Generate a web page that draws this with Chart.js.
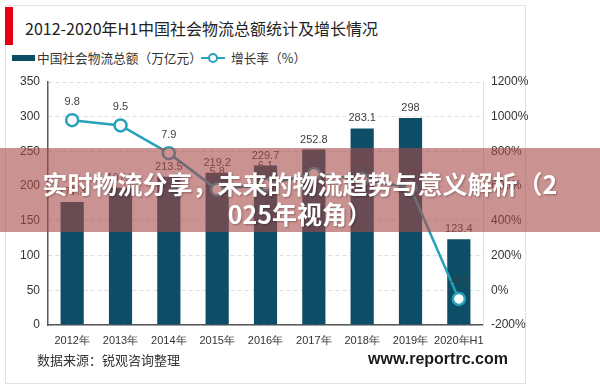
<!DOCTYPE html>
<html lang="zh">
<head>
<meta charset="UTF-8">
<script src="https://cdn.jsdelivr.net/npm/chart.js@4"></script>
<title>2012-2020年H1中国社会物流总额统计及增长情况</title>
<style>
  body { margin: 0; width: 600px; height: 387px; position: relative; overflow: hidden; background: #fff;
         font-family: "Noto Sans CJK SC", "Liberation Sans", sans-serif; color: #222; }
  .abs { position: absolute; }
  #card { left: 5px; top: 5px; width: 519px; height: 377px; border: 1px solid #e2e2e2; }
  #mark { left: 5px; top: 7px; width: 8px; height: 38px; background: #e60012; }
  #title { left: 25px; top: 16px; font-size: 16px; white-space: nowrap; }
  .leg { top: 48px; font-size: 12.7px; white-space: nowrap; color: #333; }
  #legBar { left: 12px; top: 55px; width: 23px; height: 6px; background: #0d4e66; }
  #legLine { left: 201px; top: 57px; width: 24px; height: 2px; background: #26a2bb; }
  #legDot { left: 208px; top: 53px; width: 6px; height: 6px; border: 2px solid #26a2bb; border-radius: 50%; background: #fff; }
  #wrap { left: 0; top: 0; width: 600px; height: 387px; }
  #src { left: 37px; top: 350px; font-size: 13px; color: #333; }
  #url { left: 368px; top: 350px; font-size: 16px; font-weight: bold; color: #1a1a1a; font-family: "Liberation Sans", Arial, sans-serif; }
  #band { left: 0; top: 148px; width: 600px; height: 84px; background: rgba(166, 73, 70, 0.6);
          color: #fff; font-weight: bold; font-size: 25px; line-height: 30px; text-align: center;
          box-sizing: border-box; padding-top: 20px; text-shadow: 1px 1px 2px rgba(0,0,0,0.3); }
</style>
</head>
<body>
<div id="card" class="abs"></div>
<div id="mark" class="abs"></div>
<div id="title" class="abs">2012-2020年H1中国社会物流总额统计及增长情况</div>
<div id="legBar" class="abs"></div>
<div class="abs leg" style="left:37px">中国社会物流总额（万亿元）</div>
<div id="legLine" class="abs"></div>
<div id="legDot" class="abs"></div>
<div class="abs leg" style="left:231px">增长率（%）</div>

<div id="wrap" class="abs"><canvas id="myChart"></canvas></div>

<div id="src" class="abs">数据来源：锐观咨询整理</div>
<div id="url" class="abs">www.reportrc.com</div>
<div id="band" class="abs">实时物流分享，未来的物流趋势与意义解析（2<br>025年视角）</div>

<script>
const years = ['2012年', '2013年', '2014年', '2015年', '2016年', '2017年', '2018年', '2019年', '2020年H1'];
const totals = [177.3, 197.8, 213.5, 219.2, 229.7, 252.8, 283.1, 298, 123.4];
const growth = [9.8, 9.5, 7.9, 5.8, 6.1, 6.7, 6.4, 5.9, -0.5];

const barColor = '#0d4e66';
const lineColor = '#26a2bb';

// value labels above bars and points
const valueLabels = {
    id: 'valueLabels',
    afterDatasetsDraw(chart) {
        const ctx = chart.ctx;
        ctx.save();
        ctx.font = '11px "Liberation Sans", Arial, sans-serif';
        ctx.fillStyle = '#404040';
        ctx.textAlign = 'center';
        ctx.textBaseline = 'middle';
        chart.getDatasetMeta(1).data.forEach((el, i) => {
            ctx.fillText(String(totals[i]), el.x, el.y - 10);
        });
        chart.getDatasetMeta(0).data.forEach((el, i) => {
            ctx.fillText(String(growth[i]), el.x, el.y - 18);
        });
        ctx.restore();
    }
};

let ctx = document.getElementById('myChart').getContext('2d');

new Chart(ctx, {
    data: {
        labels: years,
        datasets: [{
            type: 'line',
            label: '增长率（%）',
            data: growth,
            yAxisID: 'y1',
            borderColor: lineColor,
            borderWidth: 2.5,
            pointRadius: 6,
            pointBorderWidth: 2.5,
            pointBackgroundColor: '#fff',
            pointBorderColor: lineColor,
            tension: 0,
            order: 0
        }, {
            type: 'bar',
            label: '中国社会物流总额（万亿元）',
            data: totals,
            yAxisID: 'y',
            backgroundColor: barColor,
            barPercentage: 0.48,
            categoryPercentage: 1,
            order: 1
        }]
    },
    options: {
        responsive: true,
        maintainAspectRatio: false,
        animation: false,
        layout: { padding: { top: 82, left: 0, right: 0, bottom: 0 } },
        plugins: { legend: { display: false }, tooltip: { enabled: false } },
        scales: {
            x: {
                grid: { display: false, drawTicks: false },
                border: { color: '#595959', width: 1.5 },
                ticks: { color: '#333', font: { size: 11 }, padding: 9, maxRotation: 0, autoSkip: false },
                afterFit: s => { s.width; s.height = 62; }
            },
            y: {
                position: 'left',
                min: 0, max: 350,
                ticks: { stepSize: 50, color: '#333', font: { size: 12 }, padding: 8 },
                grid: { color: '#dedede', drawTicks: false },
                border: { color: '#595959', width: 1.5, dash: [4, 3] },
                afterFit: s => { s.width = 48; }
            },
            y1: {
                position: 'right',
                min: -2, max: 12,
                ticks: { stepSize: 2, color: '#333', font: { size: 12 }, padding: 8,
                         callback: v => Math.round(v * 100) + '%' },
                grid: { display: false, drawTicks: false },
                border: { color: '#dedede', width: 1 },
                afterFit: s => { s.width = 117; }
            }
        }
    },
    plugins: [valueLabels]
});
</script>
</body>
</html>
